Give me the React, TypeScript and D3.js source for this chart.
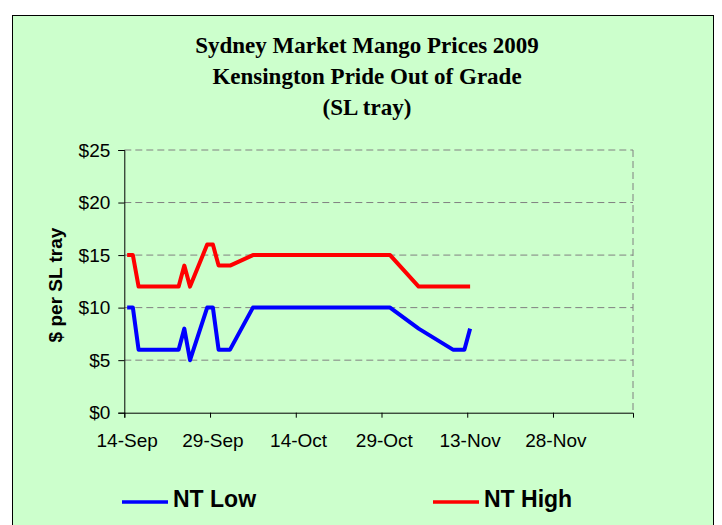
import { useEffect, useRef } from 'react';
import * as d3 from 'd3';

const W = 722;
const H = 525;

const titleLines = ['Sydney Market Mango Prices 2009', 'Kensington Pride Out of Grade', '(SL tray)'];
const yLabel = '$ per SL tray';

// market dates (2009) and prices, $ per SL tray
const lowDates = ['2009-09-14', '2009-09-15', '2009-09-16', '2009-09-23', '2009-09-24', '2009-09-25', '2009-09-28', '2009-09-29', '2009-09-30', '2009-10-02', '2009-10-06', '2009-10-30', '2009-11-04', '2009-11-10', '2009-11-12', '2009-11-13'];
const lowValues = [10, 10, 6, 6, 8, 5, 10, 10, 6, 6, 10, 10, 8, 6, 6, 8];

const highDates = ['2009-09-14', '2009-09-15', '2009-09-16', '2009-09-23', '2009-09-24', '2009-09-25', '2009-09-28', '2009-09-29', '2009-09-30', '2009-10-02', '2009-10-06', '2009-10-30', '2009-11-04', '2009-11-13'];
const highValues = [15, 15, 12, 12, 14, 12, 16, 16, 14, 14, 15, 15, 12, 12];

const xTicks = ['2009-09-14', '2009-09-29', '2009-10-14', '2009-10-29', '2009-11-13', '2009-11-28'];
const yTicks = [0, 5, 10, 15, 20, 25];
const xDomain = ['2009-09-14', '2009-12-12'];

const seriesNames = ['NT Low', 'NT High'];
const seriesColors = ['#0000FF', '#FF0000'];

const PLOT = { left: 124.3, right: 633, top: 150, bottom: 412.7 };
const HALF_DAY = 12 * 3600 * 1000;

const parse = d3.utcParse('%Y-%m-%d');

export default function App() {
  const svgRef = useRef<SVGSVGElement>(null);

  useEffect(() => {
    const svg = svgRef.current;
    if (!svg) return;
    const root = d3.select(svg);
    root.selectAll('*').remove();

    const x = d3.scaleUtc().domain(xDomain.map(d => parse(d)!)).range([PLOT.left, PLOT.right]);
    const y = d3.scaleLinear().domain([0, 25]).range([PLOT.bottom, PLOT.top]);
    // Excel date axis: points sit in the middle of their day slot
    const px = (d: Date) => x(new Date(d.getTime() + HALF_DAY));

    // background
    root.append('rect').attr('x', 0).attr('y', 0).attr('width', W).attr('height', H).attr('fill', '#ffffff');
    root.append('rect').attr('x', 12.5).attr('y', 15.5).attr('width', 701).attr('height', 530)
      .attr('fill', '#CCFFCC').attr('stroke', '#000').attr('stroke-width', 1);

    // title
    titleLines.forEach((t, i) => {
      root.append('text').attr('x', 367).attr('y', 53 + i * 31).attr('text-anchor', 'middle')
        .attr('font-family', '"Liberation Serif", "Times New Roman", serif').attr('font-weight', 'bold')
        .attr('font-size', '23px').attr('fill', '#000').text(t);
    });

    // grid
    const g = root.append('g');
    yTicks.filter(t => t > 0).forEach(t => {
      g.append('line').attr('x1', PLOT.left).attr('x2', PLOT.right).attr('y1', y(t)).attr('y2', y(t))
        .attr('stroke', '#808080').attr('stroke-width', 1).attr('stroke-dasharray', '7,4');
    });
    g.append('line').attr('x1', PLOT.right).attr('x2', PLOT.right).attr('y1', PLOT.top).attr('y2', PLOT.bottom)
      .attr('stroke', '#808080').attr('stroke-width', 1).attr('stroke-dasharray', '7,4');

    // axes
    const axisFont = '"Liberation Sans", Arial, sans-serif';
    const xAxis = d3.axisBottom(x).tickValues(xTicks.map(d => parse(d)!)).tickSize(5).tickFormat(() => '');
    const xG = g.append('g').attr('transform', `translate(0,${PLOT.bottom})`).call(xAxis);
    xG.select('.domain').attr('stroke', '#000');
    xG.selectAll('line').attr('stroke', '#000');
    xTicks.forEach(d => {
      g.append('text').attr('x', px(parse(d)!)).attr('y', 447).attr('text-anchor', 'middle')
        .attr('font-family', axisFont).attr('font-size', '19px').attr('fill', '#000')
        .text(d3.utcFormat('%-d-%b')(parse(d)!));
    });

    const yAxis = d3.axisLeft(y).tickValues(yTicks).tickSize(6).tickFormat(d => `$${d}`);
    const yG = g.append('g').attr('transform', `translate(${PLOT.left},0)`).call(yAxis);
    yG.select('.domain').attr('stroke', '#000');
    yG.selectAll('line').attr('stroke', '#000');
    yG.selectAll('text').attr('font-family', axisFont).attr('font-size', '19px').attr('fill', '#000').attr('x', -14);

    root.append('text').attr('transform', 'translate(62,285) rotate(-90)').attr('text-anchor', 'middle')
      .attr('font-family', axisFont).attr('font-weight', 'bold').attr('font-size', '19px').attr('fill', '#000').text(yLabel);

    // lines
    const line = d3.line<[Date, number]>().x(d => px(d[0])).y(d => y(d[1]));
    const series: [Date, number][][] = [
      lowDates.map((d, i) => [parse(d)!, lowValues[i]]),
      highDates.map((d, i) => [parse(d)!, highValues[i]]),
    ];
    series.forEach((s, i) => {
      g.append('path').datum(s).attr('d', line).attr('fill', 'none').attr('stroke', seriesColors[i])
        .attr('stroke-width', 4).attr('stroke-linejoin', 'round');
    });

    // legend
    const legendX = [122, 433];
    seriesNames.forEach((name, i) => {
      root.append('line').attr('x1', legendX[i]).attr('x2', legendX[i] + 46).attr('y1', 502).attr('y2', 502)
        .attr('stroke', seriesColors[i]).attr('stroke-width', 3.5);
      root.append('text').attr('x', legendX[i] + 51).attr('y', 507)
        .attr('font-family', axisFont).attr('font-weight', 'bold').attr('font-size', '23px').attr('fill', '#000').text(name);
    });
  }, []);

  return (
    <svg ref={svgRef} width={W} height={H} style={{ position: 'absolute', left: 0, top: 0, display: 'block' }} />
  );
}
